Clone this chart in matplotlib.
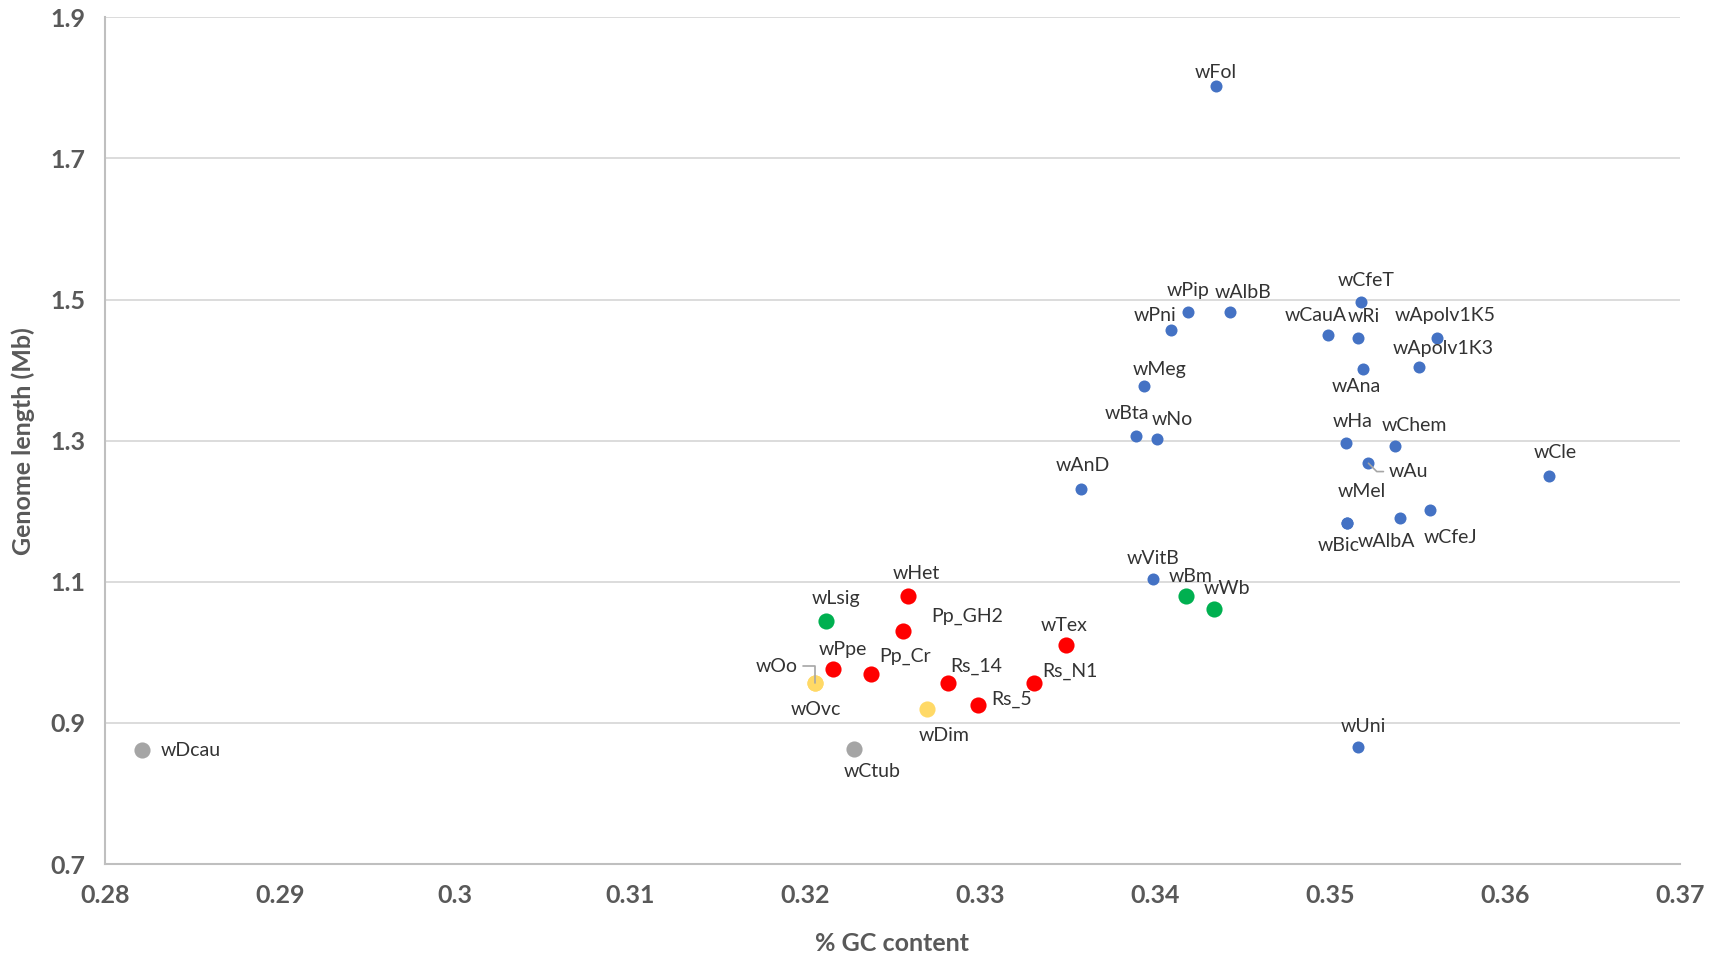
import matplotlib
matplotlib.use("Agg")
import matplotlib.pyplot as plt

plt.rcParams['font.family'] = ['Lato', 'DejaVu Sans']

# blue group
blue_names = ["wFol", "wPip", "wAlbB", "wPni", "wCfeT", "wCauA", "wRi", "wApolv1K5",
              "wApolv1K3", "wAna", "wMeg", "wBta", "wNo", "wHa", "wChem", "wAu",
              "wCle", "wAnD", "wMel", "wBic", "wAlbA", "wCfeJ", "wVitB", "wUni"]
blue_gc = [0.3435, 0.3419, 0.3443, 0.3409, 0.3518, 0.3499, 0.3516, 0.3561,
           0.3551, 0.3519, 0.3394, 0.3389, 0.3401, 0.3509, 0.3537, 0.3522,
           0.3625, 0.3358, 0.3510, 0.3510, 0.3540, 0.3557, 0.3399, 0.3516]
blue_len = [1.802, 1.482, 1.483, 1.457, 1.496, 1.450, 1.446, 1.446,
            1.405, 1.402, 1.377, 1.307, 1.302, 1.296, 1.292, 1.268,
            1.250, 1.231, 1.183, 1.183, 1.191, 1.202, 1.104, 0.866]

# red group
red_names = ["wHet", "Pp_GH2", "wTex", "wPpe", "Pp_Cr", "Rs_14", "Rs_N1", "Rs_5"]
red_gc = [0.3259, 0.3256, 0.3349, 0.3216, 0.3238, 0.3282, 0.3331, 0.3299]
red_len = [1.080, 1.030, 1.011, 0.976, 0.970, 0.957, 0.957, 0.926]

# green group
green_names = ["wLsig", "wBm", "wWb"]
green_gc = [0.3212, 0.3418, 0.3434]
green_len = [1.045, 1.080, 1.061]

# yellow group
yellow_names = ["wOo", "wOvc", "wDim"]
yellow_gc = [0.3206, 0.3206, 0.3270]
yellow_len = [0.957, 0.957, 0.920]

# gray group
gray_names = ["wDcau", "wCtub"]
gray_gc = [0.2821, 0.3228]
gray_len = [0.861, 0.863]

# label offsets in points
offsets = {
    "wFol": (0, 10), "wPip": (0, 16), "wAlbB": (9, 14), "wPni": (-11, 10),
    "wCfeT": (3, 16), "wCauA": (-9, 14), "wRi": (4, 15), "wApolv1K5": (6, 16),
    "wApolv1K3": (17, 13), "wAna": (-5, -13), "wMeg": (11, 12), "wBta": (-6, 16),
    "wNo": (11, 14), "wHa": (5, 16), "wChem": (14, 15), "wAu": (29, -6),
    "wCle": (5, 17), "wAnD": (1, 17), "wMel": (10, 23), "wBic": (-6, -16),
    "wAlbA": (-10, -17), "wCfeJ": (15, -20), "wVitB": (0, 15), "wUni": (4, 15),
    "wHet": (6, 16), "Pp_GH2": (46, 11), "wTex": (-1, 14), "wPpe": (7, 14),
    "Pp_Cr": (24, 12), "Rs_14": (20, 12), "Rs_N1": (26, 8), "Rs_5": (24, 4),
    "wLsig": (7, 16), "wBm": (3, 14), "wWb": (9, 15),
    "wOo": (-28, 12), "wOvc": (0, -19), "wDim": (12, -19),
    "wDcau": (35, 0), "wCtub": (13, -16),
}
leaders = {"wOo": "angle,angleA=0,angleB=90,rad=0",
           "wAu": "angle,angleA=0,angleB=135,rad=0"}

fig = plt.figure(figsize=(17.13, 9.59), dpi=100)
ax = fig.add_axes([0.0613, 0.099, 0.9194, 0.883])

groups = [
    (blue_names, blue_gc, blue_len, "#4472C4", 75),
    (red_names, red_gc, red_len, "#FF0000", 135),
    (green_names, green_gc, green_len, "#00B050", 135),
    (yellow_names, yellow_gc, yellow_len, "#FFD966", 135),
    (gray_names, gray_gc, gray_len, "#A5A5A5", 135),
]

for names, gc, ln, col, sz in groups:
    ax.scatter(gc, ln, s=sz, color=col, zorder=3, linewidths=0)
    for n, x, y in zip(names, gc, ln):
        dx, dy = offsets[n]
        if n in leaders:
            ax.annotate(n, (x, y), xytext=(dx, dy), textcoords="offset points",
                        ha="center", va="center", fontsize=14, color="#333333",
                        arrowprops=dict(arrowstyle="-", color="#A6A6A6", lw=1.2,
                                        shrinkA=2, shrinkB=0,
                                        connectionstyle=leaders[n]))
        else:
            ax.annotate(n, (x, y), xytext=(dx, dy), textcoords="offset points",
                        ha="center", va="center", fontsize=14, color="#333333")

ax.set_xlim(0.28, 0.37)
ax.set_ylim(0.7, 1.9)
ax.set_xticks([0.28, 0.29, 0.30, 0.31, 0.32, 0.33, 0.34, 0.35, 0.36, 0.37])
ax.set_xticklabels(["0.28", "0.29", "0.3", "0.31", "0.32", "0.33", "0.34", "0.35", "0.36", "0.37"])
ax.set_yticks([0.7, 0.9, 1.1, 1.3, 1.5, 1.7, 1.9])
ax.set_yticklabels(["0.7", "0.9", "1.1", "1.3", "1.5", "1.7", "1.9"])
ax.tick_params(length=0, labelsize=18, labelcolor="#595959", pad=14)
for lab in ax.get_xticklabels() + ax.get_yticklabels():
    lab.set_fontweight("bold")
ax.grid(axis="y", color="#D9D9D9", lw=1.3, zorder=0)
ax.set_axisbelow(True)
for sp in ["top", "right"]:
    ax.spines[sp].set_visible(False)
for sp in ["left", "bottom"]:
    ax.spines[sp].set_color("#BFBFBF")
    ax.spines[sp].set_linewidth(1.5)

ax.set_xlabel("% GC content", fontsize=18, fontweight="bold", color="#595959", labelpad=18)
ax.set_ylabel("Genome length (Mb)", fontsize=18, fontweight="bold", color="#595959", labelpad=11)

fig.savefig("out.png", dpi=100)
